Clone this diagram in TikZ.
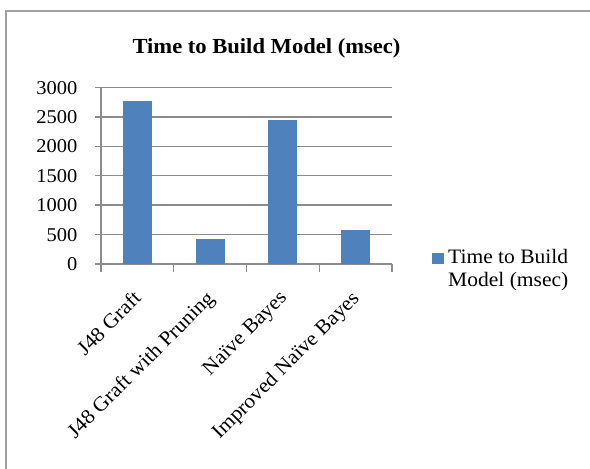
\documentclass[tikz,border=0pt]{standalone}
\usepackage{fontspec}
\setmainfont[FakeStretch=1.05]{Liberation Serif}
\definecolor{barblue}{HTML}{4F81BD}
\definecolor{gridgray}{HTML}{8C8C8C}
\definecolor{framegray}{HTML}{A0A0A0}
\begin{document}
\begin{tikzpicture}[x=1pt,y=-1pt,
  gridline/.style={draw=gridgray,line width=1.4pt},
  bar/.style={fill=barblue},
  ticklabel/.style={anchor=base east,inner sep=0pt,font=\fontsize{19.5}{23}\selectfont},
  catlabel/.style={anchor=north east,rotate=45,inner sep=0pt,font=\fontsize{20.5}{23}\selectfont},
  legendtext/.style={anchor=north west,inner sep=0pt,align=left,font=\fontsize{20.5}{23}\selectfont}]
  \useasboundingbox (0,0) rectangle (590,469);
  % chart frame (only its top and left sides fall inside the page)
  \draw[framegray,line width=2pt] (6,475) -- (6,10.5) -- (600,10.5);
  % title
  \node[anchor=base,inner sep=0pt,font=\fontsize{21.5}{26}\bfseries] (title) at (266.5,53) {Time to Build Model (msec)};
  % value gridlines with their tick marks and labels
  \foreach \v [count=\i] in {0,500,1000,1500,2000,2500,3000}{
    \pgfmathsetmacro{\gy}{264-\v/3000*176.5}
    \draw[gridline] (95,\gy) -- (392,\gy);
    \node[ticklabel] (ylab\i) at (77.5,\gy+6.6) {\v};
  }
  % value axis
  \draw[gridline] (101,87.5) -- (101,264);
  % category ticks
  \foreach \x in {101,173.75,246.5,319.25,392}{
    \draw[gridline] (\x,264) -- (\x,272);
  }
  % bars
  \foreach \cx/\v in {137.4/2771,210.1/420,282.9/2453,355.6/573}{
    \pgfmathsetmacro{\by}{264-\v/3000*176.5}
    \fill[bar] (\cx-14.5,\by) rectangle (\cx+14.5,264);
  }
  % category labels
  \node[catlabel] (cat1) at (132,289) {J48 Graft};
  \node[catlabel] (cat2) at (205,289) {J48 Graft with Pruning};
  \node[catlabel] (cat3) at (278,289) {Naïve Bayes};
  \node[catlabel] (cat4) at (350,289) {Improved Naïve Bayes};
  % legend
  \fill[bar] (432,253) rectangle (444,264);
  \node[legendtext] (legend) at (448,249) {Time to Build\\Model (msec)};
\end{tikzpicture}
\end{document}
